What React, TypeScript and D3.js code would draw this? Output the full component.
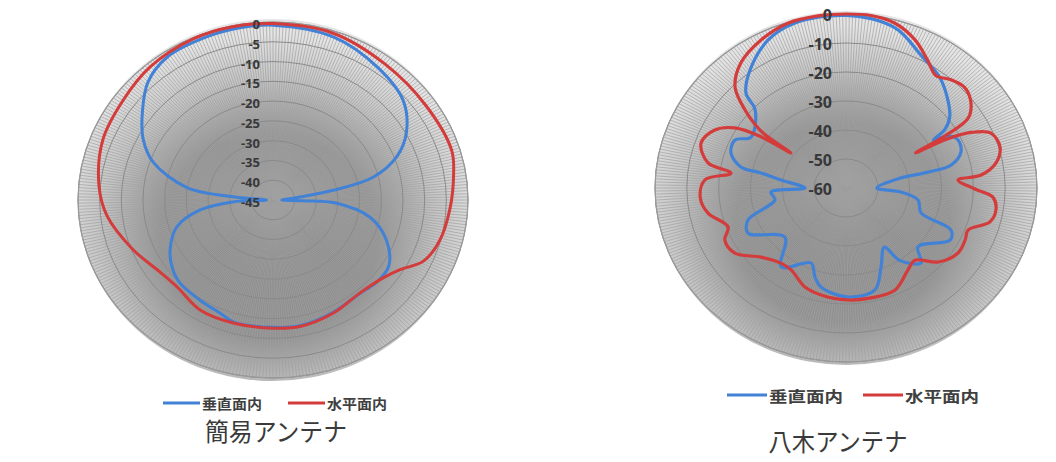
import React from 'react';
import * as d3 from 'd3';

// ---------- data ----------
const legendLabels = ['垂直面内', '水平面内'];
const titles = ['簡易アンテナ', '八木アンテナ'];

const simpleTicks = [0, -5, -10, -15, -20, -25, -30, -35, -40, -45];
const yagiTicks = [0, -10, -20, -30, -40, -50, -60];

// 簡易アンテナ : angle (deg, clockwise from top) / level (dB)
const simpleBlueAngles = [0, 19, 36, 50, 61, 69, 76, 80, 83, 86, 90, 91.5, 93, 101, 111, 122, 131, 139, 154, 169, 180, 196, 203, 214, 226, 234, 242, 253, 261.5, 267, 270, 275, 279, 289, 297, 307, 316, 326, 340, 350];
const simpleBlueValues = [-0.8, -1.5, -3.7, -5.8, -9.8, -14.4, -21.2, -30.9, -38.7, -42, -43, -38, -30.5, -22.2, -17.0, -13.5, -13.3, -14.0, -13.4, -12.6, -12.8, -12.8, -13.9, -14.6, -15.0, -16.2, -18.1, -21.8, -28, -35.7, -43.5, -35.7, -24.9, -15.8, -11.4, -7.3, -3.5, -1.4, -1.0, -0.8];

const simpleRedAngles = [0, 18, 37, 56, 73, 81, 93, 105, 114, 121, 128, 140, 154, 169, 180, 196, 211, 225, 235, 249, 264, 275, 291, 306, 320, 336, 348];
const simpleRedValues = [-0.4, -0.6, -2.0, -2.4, -1.9, -2.8, -4.1, -5.2, -7.0, -10.8, -12.9, -14.1, -13.2, -12.4, -12.6, -12.6, -12.5, -13.8, -13.2, -10.3, -6.5, -4.7, -2.9, -2.2, -1.0, -0.3, -0.2];

// 八木アンテナ
const yagiBlueAngles = [0, 15.6, 27.2, 37.9, 46.5, 53, 57, 59, 61, 64.8, 71, 76.5, 78, 79, 90, 94.6, 100.4, 110, 113.7, 118.8, 131.9, 137.6, 146, 149.5, 158, 165.5, 179, 193, 197.6, 203, 216.8, 228.5, 243.2, 250.3, 259.5, 266.7, 270, 277.7, 281, 282.4, 288.5, 295.4, 300.5, 313.3, 316.2, 323.4, 334.4, 344.3];
const yagiBlueValues = [-0.5, -2.7, -8.5, -11.9, -15.9, -19.2, -23, -28, -23, -21.1, -21.8, -26, -33.7, -43.3, -50.3, -42.7, -37, -34.9, -24, -22.7, -29.6, -25, -29.9, -36.3, -30.6, -23.7, -22.4, -25, -27.8, -31.9, -26, -34.4, -25.5, -27.3, -37.3, -36.4, -47.1, -39.4, -32.8, -26.2, -21.9, -21.4, -25.4, -20.8, -14.6, -9.4, -3.4, -0.9];

const yagiRedAngles = [0, 7.5, 15, 23, 30, 36, 41.5, 47, 52, 57, 58.5, 60, 61, 62, 64, 67.4, 73.7, 79.6, 84, 85.5, 90.5, 94, 99, 104.5, 110.7, 115.6, 122.5, 131.4, 139, 145.4, 156.3, 168.3, 179.4, 192, 200.7, 211.4, 218.3, 228.3, 237.2, 244.7, 250.1, 258.7, 266, 273.6, 278.1, 281.3, 288.8, 295.9, 300.7, 303.5, 304.9, 306, 307.5, 310.3, 315, 322.5, 332.4, 342.2, 351.6];
const yagiRedValues = [0, 0, -1.1, -4.5, -8.9, -12, -10.2, -9.1, -10.4, -13.6, -16, -24, -35, -24, -16.3, -10.7, -9.6, -12.1, -17.3, -24.7, -19.5, -13.7, -12.3, -13.3, -19, -18.5, -18.3, -21.4, -27, -25.7, -21.6, -21.3, -21.4, -22.3, -23.5, -26.9, -27, -24.2, -18.5, -17.9, -20.6, -15.8, -14.1, -15.6, -23.5, -15.8, -11.9, -14.2, -19.4, -28, -38.9, -28, -24, -18.4, -10.7, -5.7, -2.4, -0.3, 0];

const BLUE = '#4282d6';
const RED = '#d43b3b';

type PolarProps = {
  id: string;
  cx: number; cy: number; rx: number; ry: number;
  min: number; ticks: number[];
  blueA: number[]; blueV: number[]; redA: number[]; redV: number[];
  labelRight: number; labelSize: number; lineW: number; labelDy: number;
};

function Polar(p: PolarProps) {
  const r = d3.scaleLinear().domain([p.min, 0]).range([0, 1]).clamp(true);
  const ang = d3.scaleLinear().domain([0, 360]).range([0, 2 * Math.PI]);
  const px = (a: number, v: number) => p.cx + Math.sin(ang(a)) * p.rx * r(v);
  const py = (a: number, v: number) => p.cy - Math.cos(ang(a)) * p.ry * r(v);

  const spokes = d3.range(0, 360, 1)
    .map((a) => `M${p.cx},${p.cy}L${px(a, 0).toFixed(2)},${py(a, 0).toFixed(2)}`)
    .join('');

  const mk = (A: number[], V: number[]) =>
    d3.line<number>()
      .x((i) => px(A[i], V[i]))
      .y((i) => py(A[i], V[i]))
      .curve(d3.curveCatmullRomClosed.alpha(0.5))(d3.range(A.length)) || '';

  const rings = p.ticks.filter((t) => t > p.min);

  return (
    <g>
      <defs>
        <radialGradient id={p.id + 'g'} cx="49%" cy="60%" r="56%">
          <stop offset="0%" stopColor="#878787" />
          <stop offset="50%" stopColor="#929292" />
          <stop offset="78%" stopColor="#c6c6c6" />
          <stop offset="100%" stopColor="#e4e4e4" />
        </radialGradient>
      </defs>
      <ellipse cx={p.cx} cy={p.cy} rx={p.rx} ry={p.ry + 3} fill={`url(#${p.id}g)`} />
      <path d={spokes} stroke="#a0a0a0" strokeWidth={0.7} fill="none" />
      {rings.map((t) => (
        <ellipse key={t} cx={p.cx} cy={p.cy} rx={p.rx * r(t)} ry={p.ry * r(t)}
          fill="none" stroke="#8a8a8a" strokeWidth={1} />
      ))}
      <ellipse cx={p.cx} cy={p.cy} rx={p.rx} ry={p.ry} fill="none" stroke="#9a9a9a" strokeWidth={1.2} />
      <path d={mk(p.blueA, p.blueV)} fill="none" stroke={BLUE} strokeWidth={p.lineW} strokeLinejoin="round" />
      <path d={mk(p.redA, p.redV)} fill="none" stroke={RED} strokeWidth={p.lineW} strokeLinejoin="round" />
      {p.ticks.map((t) => (
        <text key={t} x={p.labelRight} y={py(0, t) + p.labelDy} textAnchor="end" dominantBaseline="central"
          fontFamily="'Open Sans', 'Liberation Sans', sans-serif" fontWeight={700}
          fontSize={p.labelSize} fill="#383838">{t}</text>
      ))}
    </g>
  );
}

type LegendProps = { y: number; x: number[]; textW: number; size: number };
function Legend({ y, x, textW, size }: LegendProps) {
  const colors = [BLUE, RED];
  return (
    <g>
      {legendLabels.map((lab, i) => (
        <g key={lab}>
          <line x1={x[i * 2]} x2={x[i * 2 + 1]} y1={y} y2={y} stroke={colors[i]} strokeWidth={3} />
          <text x={x[i * 2 + 1] + 2} y={y} dominantBaseline="central" fontSize={size}
            fontFamily="'Noto Sans CJK JP', sans-serif" fontWeight={700} fill="#404040"
            textLength={textW} lengthAdjust="spacingAndGlyphs">{lab}</text>
        </g>
      ))}
    </g>
  );
}

export default function App() {
  return (
    <svg width={1056} height={462} style={{ position: 'absolute', left: 0, top: 0, background: '#fff' }}>
      <Polar id="s" cx={273} cy={200} rx={195} ry={178} min={-45} ticks={simpleTicks}
        blueA={simpleBlueAngles} blueV={simpleBlueValues} redA={simpleRedAngles} redV={simpleRedValues}
        labelRight={260} labelSize={13} lineW={3} labelDy={2} />
      <Polar id="y" cx={846} cy={188} rx={191} ry={174} min={-60} ticks={yagiTicks}
        blueA={yagiBlueAngles} blueV={yagiBlueValues} redA={yagiRedAngles} redV={yagiRedValues}
        labelRight={832} labelSize={16} lineW={3.2} labelDy={1} />
      <Legend y={403} x={[163, 200, 288, 325]} textW={60} size={14} />
      <Legend y={395} x={[727, 767, 863, 903]} textW={74} size={15} />
      <text x={276} y={441} textAnchor="middle" fontSize={25} fontFamily="'Noto Sans CJK JP', sans-serif"
        fill="#3a3a3a" textLength={142} lengthAdjust="spacingAndGlyphs">{titles[0]}</text>
      <text x={838} y={451} textAnchor="middle" fontSize={25} fontFamily="'Noto Sans CJK JP', sans-serif"
        fill="#3a3a3a" textLength={139} lengthAdjust="spacingAndGlyphs">{titles[1]}</text>
    </svg>
  );
}
